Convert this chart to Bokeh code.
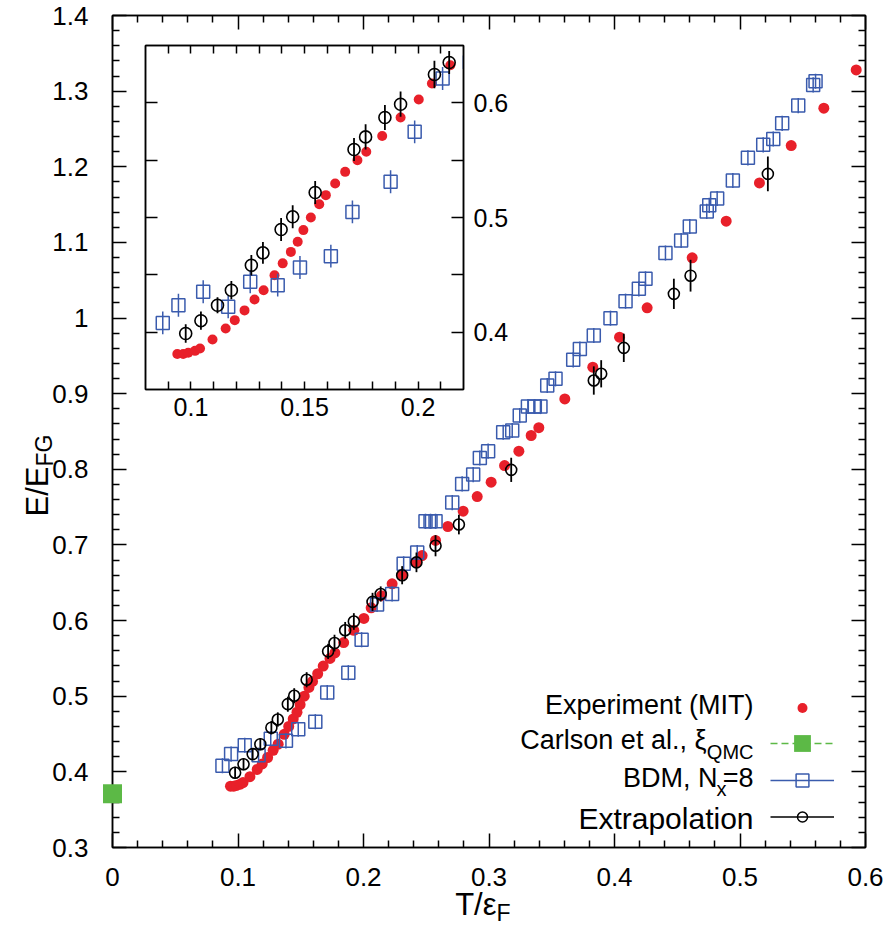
from bokeh.plotting import figure
from bokeh.models import (ColumnDataSource, FixedTicker, LinearAxis,
                          Range1d, Label, Legend, LegendItem, CustomJSTickFormatter)
from bokeh.layouts import column
from bokeh.embed import file_html
from bokeh.resources import INLINE

# ---------------- data ----------------
exp_x = [0.094, 0.0966, 0.0988, 0.1018, 0.104, 0.1095, 0.1153, 0.1193, 0.1236, 0.128, 0.132,
         0.1368, 0.1404, 0.144, 0.147, 0.1495, 0.1528, 0.1565, 0.1594, 0.1635, 0.1679, 0.1733,
         0.1772, 0.1842, 0.1923, 0.2003, 0.2061, 0.2142, 0.2228, 0.2308, 0.2422, 0.2467, 0.2574,
         0.2672, 0.2794, 0.2906, 0.3017, 0.3124, 0.3238, 0.3336, 0.3397, 0.3604, 0.3827, 0.404,
         0.426, 0.4619, 0.489, 0.5155, 0.5408, 0.5668, 0.5926]
exp_y = [0.381, 0.381, 0.382, 0.3837, 0.3858, 0.3936, 0.4032, 0.4105, 0.419, 0.4285, 0.4366,
         0.4497, 0.46, 0.470, 0.4788, 0.489, 0.5, 0.5116, 0.5195, 0.5297, 0.5398, 0.55,
         0.5573, 0.571, 0.5872, 0.6029, 0.6169, 0.6328, 0.6486, 0.661, 0.677, 0.686, 0.706,
         0.7244, 0.7446, 0.764, 0.783, 0.805, 0.824, 0.8447, 0.855, 0.893, 0.935, 0.9747,
         1.0135, 1.0796, 1.128, 1.1786, 1.228, 1.2774, 1.328]

bdm_x = [0.0876, 0.0945, 0.1054, 0.1164, 0.1261, 0.1382, 0.148, 0.1616, 0.1711, 0.1879, 0.1985,
         0.2108, 0.2228, 0.232, 0.2428, 0.2494, 0.2534, 0.2574, 0.2707, 0.2786, 0.2874, 0.2927,
         0.2993, 0.3113, 0.3185, 0.3245, 0.331, 0.3365, 0.341, 0.3464, 0.353, 0.3671, 0.3724,
         0.3835, 0.3968, 0.4088, 0.4194, 0.4247, 0.4406, 0.4531, 0.46, 0.4735, 0.4755, 0.4818,
         0.4943, 0.5063, 0.5185, 0.5265, 0.5336, 0.5464, 0.5583, 0.5602]
bdm_y = [0.4081, 0.4235, 0.4352, 0.4221, 0.4439, 0.441, 0.4564, 0.4663, 0.5049, 0.5311, 0.5747,
         0.6212, 0.6353, 0.675, 0.690, 0.7313, 0.7313, 0.7313, 0.756, 0.7807, 0.793, 0.815,
         0.824, 0.849, 0.8513, 0.871, 0.883, 0.883, 0.883, 0.9108, 0.9196, 0.9447, 0.959,
         0.9769, 0.9998, 1.0223, 1.0386, 1.0518, 1.086, 1.1025, 1.121, 1.141, 1.149, 1.158,
         1.1818, 1.2118, 1.229, 1.2367, 1.2574, 1.2809, 1.3082, 1.313]
bdm_err = [0.01] * len(bdm_x)

ext_x = [0.0977, 0.1044, 0.1117, 0.1178, 0.1266, 0.1317, 0.1397, 0.1448, 0.1547, 0.1718, 0.1769,
         0.1854, 0.1923, 0.2072, 0.2137, 0.2308, 0.2422, 0.2574, 0.276, 0.3177, 0.3835, 0.3894,
         0.4074, 0.4473, 0.4606, 0.5222]
ext_y = [0.3988, 0.41, 0.4235, 0.4366, 0.4584, 0.4692, 0.4895, 0.5006, 0.5218, 0.5593, 0.5703,
         0.5872, 0.5988, 0.6247, 0.6352, 0.66, 0.677, 0.699, 0.727, 0.7993, 0.9174, 0.9263,
         0.9606, 1.032, 1.056, 1.1906]
ext_err = [0.008, 0.008, 0.007, 0.008, 0.009, 0.0095, 0.01, 0.01, 0.01, 0.01, 0.011,
           0.011, 0.011, 0.012, 0.01, 0.012, 0.013, 0.014, 0.013, 0.016, 0.0187, 0.018,
           0.0187, 0.02, 0.021, 0.023]

qmc_x = [0.0]
qmc_y = [0.371]

# tick positions
main_x_major = [0.0, 0.1, 0.2, 0.3, 0.4, 0.5, 0.6]
main_y_major = [0.3, 0.4, 0.5, 0.6, 0.7, 0.8, 0.9, 1.0, 1.1, 1.2, 1.3, 1.4]
main_x_minor = [round(0.02 * i, 2) for i in range(31) if i % 5]
main_y_minor = [round(0.3 + 0.02 * i, 2) for i in range(56) if i % 5]
inset_x_major = [0.1, 0.15, 0.2]
inset_x_minor = [0.09, 0.11, 0.12, 0.13, 0.14, 0.16, 0.17, 0.18, 0.19, 0.21]
inset_y_major = [0.4, 0.5, 0.6]
inset_y_minor = [0.45, 0.55]

# ---------------- style ----------------
FONT = "Liberation Sans"
RED = "#e8202a"
BLUE = "#3a5bad"
GREEN = "#5cb946"
PAGE_W, PAGE_H = 890, 934
NAN = float("nan")

# main frame geometry (page pixels)
M_LEFT, M_TOP, M_FW, M_FH = 112, 15, 753, 832
X0, X1, Y0, Y1 = 0.0, 0.6, 0.3, 1.4
# inset frame geometry
I_LEFT, I_TOP, I_FW, I_FH = 145, 45, 318, 344
I_BL, I_BT, I_BR, I_BB = 5, 5, 60, 40

fmt_code = "return parseFloat(tick.toFixed(2)).toString();"


def src(x, y, err=None):
    d = dict(x=x, y=y)
    if err is not None:
        d["lo"] = [a - e for a, e in zip(y, err)]
        d["hi"] = [a + e for a, e in zip(y, err)]
    return ColumnDataSource(d)


def style_axis(ax, tick_in, minor_in, size, labels=True):
    ax.major_tick_in = tick_in
    ax.major_tick_out = 0
    ax.minor_tick_in = minor_in
    ax.minor_tick_out = 0
    ax.axis_line_width = 1.5
    ax.major_tick_line_width = 1.5
    ax.minor_tick_line_width = 1.5
    ax.axis_line_color = "black"
    ax.major_tick_line_color = "black"
    ax.minor_tick_line_color = "black"
    if labels:
        ax.formatter = CustomJSTickFormatter(code=fmt_code)
        ax.major_label_text_font = FONT
        ax.major_label_text_font_size = size
        ax.major_label_text_color = "black"
    else:
        ax.major_label_text_font_size = "0px"
        ax.major_label_standoff = 0
        ax.major_label_text_alpha = 0


def draw_data(fig, s_red, s_blue, s_blk, red_size, sq_size, circ_size):
    fig.scatter("x", "y", source=s_red, size=red_size, fill_color=RED, line_color=None)
    fig.segment(x0="x", x1="x", y0="lo", y1="hi", source=s_blue, line_color=BLUE, line_width=1.5)
    fig.scatter("x", "y", source=s_blue, marker="square", size=sq_size, fill_color=None,
                line_color=BLUE, line_width=1.5)
    fig.segment(x0="x", x1="x", y0="lo", y1="hi", source=s_blk, line_color="black", line_width=1.8)
    fig.scatter("x", "y", source=s_blk, marker="circle", size=circ_size, fill_color=None,
                line_color="black", line_width=1.6)


s_red = src(exp_x, exp_y)
s_blue = src(bdm_x, bdm_y, bdm_err)
s_blk = src(ext_x, ext_y, ext_err)

# ---------------- inset (drawn first, underneath) ----------------
inset = figure(frame_width=I_FW, frame_height=I_FH, x_range=Range1d(0.08, 0.22),
               y_range=Range1d(0.35, 0.65), y_axis_location="right",
               output_backend="svg", toolbar_location=None, frame_align=False,
               min_border_left=I_BL, min_border_top=I_BT, min_border_right=I_BR,
               min_border_bottom=I_BB)
inset.outline_line_color = "black"
inset.outline_line_width = 1.5
inset.grid.visible = False
ixt = FixedTicker(ticks=inset_x_major, minor_ticks=inset_x_minor)
iyt = FixedTicker(ticks=inset_y_major, minor_ticks=inset_y_minor)
inset.xaxis.ticker = ixt
inset.yaxis.ticker = iyt
style_axis(inset.xaxis[0], 8, 8, "25px")
style_axis(inset.yaxis[0], 12, 12, "25px")
inset.xaxis.major_label_standoff = 8
inset.yaxis.major_label_standoff = 10
itop = LinearAxis(ticker=ixt)
style_axis(itop, 8, 8, "0px", labels=False)
inset.add_layout(itop, "above")
ileft = LinearAxis(ticker=iyt)
style_axis(ileft, 12, 12, "0px", labels=False)
inset.add_layout(ileft, "left")
draw_data(inset, s_red, s_blue, s_blk, 10, 13, 12)
inset.margin = (I_TOP - I_BT, 0, 0, I_LEFT - I_BL)
inset_h = I_BT + I_FH + I_BB

# ---------------- main figure ----------------
main = figure(frame_width=M_FW, frame_height=M_FH, x_range=Range1d(X0, X1),
              y_range=Range1d(Y0, Y1), output_backend="svg", toolbar_location=None,
              frame_align=False,
              min_border_left=M_LEFT, min_border_right=PAGE_W - M_LEFT - M_FW,
              min_border_top=M_TOP, min_border_bottom=PAGE_H - M_TOP - M_FH)
main.background_fill_color = None
main.border_fill_color = None
main.outline_line_color = "black"
main.outline_line_width = 1.5
main.grid.visible = False

xt = FixedTicker(ticks=main_x_major, minor_ticks=main_x_minor)
yt = FixedTicker(ticks=main_y_major, minor_ticks=main_y_minor)
main.xaxis.ticker = xt
main.yaxis.ticker = yt
style_axis(main.xaxis[0], 14, 7, "26px")
style_axis(main.yaxis[0], 14, 7, "26px")
main.xaxis.major_label_standoff = 20
main.yaxis.major_label_standoff = 24

top_ax = LinearAxis(ticker=xt)
style_axis(top_ax, 14, 7, "0px", labels=False)
main.add_layout(top_ax, "above")
right_ax = LinearAxis(ticker=yt)
style_axis(right_ax, 14, 7, "0px", labels=False)
main.add_layout(right_ax, "right")

draw_data(main, s_red, s_blue, s_blk, 11, 13, 11)
main.margin = (-(I_TOP - I_BT + inset_h), 0, 0, 0)

# ---------------- overlay (page-sized frame, same scale as main) ----------------
sx = M_FW / (X1 - X0)
sy = M_FH / (Y1 - Y0)
ov_x0 = X0 - M_LEFT / sx
ov_y0 = Y0 - (PAGE_H - M_TOP - M_FH) / sy
over = figure(width=PAGE_W, height=PAGE_H, x_range=Range1d(ov_x0, ov_x0 + PAGE_W / sx),
              y_range=Range1d(ov_y0, ov_y0 + PAGE_H / sy), x_axis_type=None, y_axis_type=None,
              output_backend="svg", toolbar_location=None, min_border=0, frame_align=False)
over.min_border_left = over.min_border_right = over.min_border_top = over.min_border_bottom = 0
over.background_fill_color = None
over.border_fill_color = None
over.outline_line_color = None
over.grid.visible = False
over.margin = (-PAGE_H, 0, 0, 0)

r_qmc = over.scatter(qmc_x, qmc_y, marker="square", size=19, fill_color=GREEN, line_color=None)

# legend-only sample renderers (a single NaN point: nothing drawn in the plot)
nan_src = lambda: ColumnDataSource(dict(x=[NAN], y=[NAN]))
l_red = over.scatter("x", "y", source=nan_src(), fill_color=RED, line_color=None)
l_qmc_line = over.line("x", "y", source=nan_src(), line_color=GREEN, line_width=1.5, line_dash="7 4")
l_qmc = over.scatter("x", "y", source=nan_src(), marker="square", fill_color=GREEN, line_color=None)
l_blue_line = over.line("x", "y", source=nan_src(), line_color=BLUE, line_width=1.5)
l_blue = over.scatter("x", "y", source=nan_src(), marker="square", fill_color=None,
                      line_color=BLUE, line_width=1.5)
l_blk_line = over.line("x", "y", source=nan_src(), line_color="black", line_width=1.5)
l_blk = over.scatter("x", "y", source=nan_src(), marker="circle", fill_color=None,
                     line_color="black", line_width=1.5)

legend_rows = [([l_red], 25, 707), ([l_qmc_line, l_qmc], 42, 743),
               ([l_blue_line, l_blue], 32, 780), ([l_blk_line, l_blk], 25, 816)]
for rends, gh, cy in legend_rows:
    lg = Legend(items=[LegendItem(label="", renderers=rends)],
                location=(770, PAGE_H - (cy + gh / 2.0)),
                glyph_width=64, glyph_height=gh, label_width=0, label_height=0,
                label_standoff=0, padding=0, margin=0, spacing=0,
                border_line_color=None, background_fill_alpha=0,
                label_text_font_size="1px")
    over.add_layout(lg, "center")

BASE_FIX = 9  # rendered baseline sits this much lower than the anchor


def lab(text, px, py, size, align="left", angle=0.0):
    if angle:
        ax_, ay_ = px - BASE_FIX, py
    else:
        ax_, ay_ = px, py - BASE_FIX
    over.add_layout(Label(x=ax_, y=PAGE_H - ay_, x_units="screen", y_units="screen", text=text,
                          text_font=FONT, text_font_size=size, text_align=align,
                          text_baseline="alphabetic", text_color="black", angle=angle))


# legend texts
lab("Experiment (MIT)", 753, 713, "27px", "right")
lab("Carlson et al., \u03be", 706, 748, "27px", "right")
lab("QMC", 753, 760, "20px", "right")
lab("BDM, N", 717, 786, "27px", "right")
lab("x", 716, 797, "20px", "left")
lab("=8", 753, 786, "27px", "right")
lab("Extrapolation", 753, 827, "30px", "right")

# axis titles
lab("T/\u03b5", 496, 913, "31px", "right")
lab("F", 496, 921, "23px", "left")
lab("E/E", 46, 466, "31px", "right", angle=1.5708)
lab("FG", 53, 466, "23px", "left", angle=1.5708)

layout = column(inset, main, over)
open("out.html", "w").write(file_html(layout, INLINE))
